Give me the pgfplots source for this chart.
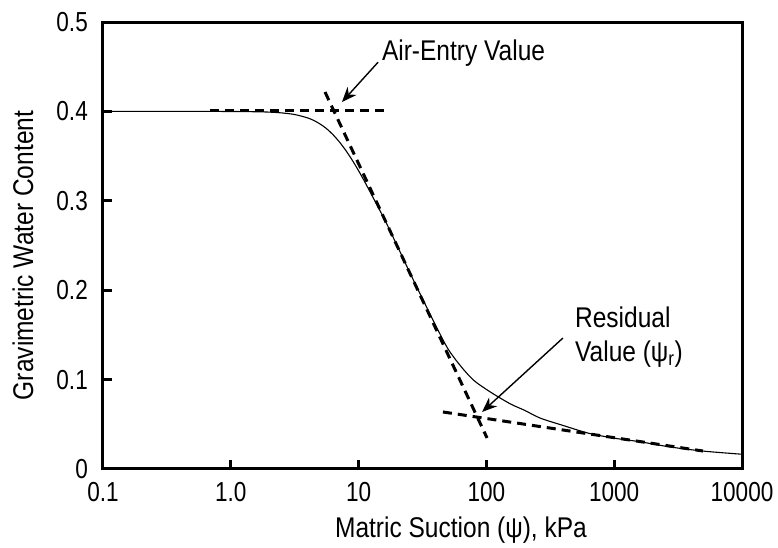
\documentclass[border=0pt]{standalone}
\usepackage{fontspec}
\setmainfont{Liberation Sans}[FakeStretch=0.86]
\newfontfamily\tickfont{Liberation Sans}[FakeStretch=0.82]
\usepackage{pgfplots}
\pgfplotsset{compat=1.18}
\usetikzlibrary{arrows.meta}
\begin{document}
\fontsize{28.5bp}{34bp}\selectfont
\begin{tikzpicture}
\path[use as bounding box] (0,0) rectangle (778bp,548bp);
\begin{axis}[
  at={(103bp,79bp)}, anchor=south west,
  width=639bp, height=447bp, scale only axis,
  xmode=log, xmin=0.1, xmax=10000, ymin=0, ymax=0.5,
  xtick={0.1,1,10,100,1000,10000},
  xticklabels={0.1,1.0,10,100,1000,10000},
  ytick={0,0.1,0.2,0.3,0.4,0.5},
  yticklabels={0,0.1,0.2,0.3,0.4,0.5},
  xminorticks=false, yminorticks=false,
  axis line style={line width=3bp, black},
  major tick length=9bp,
  every tick/.style={line width=3bp, black},
  tick align=inside, xtick pos=bottom, ytick pos=left,
  xticklabel style={anchor=base, inner sep=0pt, yshift=-33bp, font=\tickfont\fontsize{27.5bp}{33bp}\selectfont},
  yticklabel style={anchor=east, inner sep=0pt, xshift=-15bp, font=\tickfont\fontsize{27.5bp}{33bp}\selectfont},
  clip=false,
]
% soil-water characteristic curve
\addplot[black, line width=1.1bp, smooth] coordinates {
(0.1,0.400) (0.5,0.400) (1.0,0.3999) (1.585,0.3996) (1.995,0.3992) (2.512,0.3983)
(3.162,0.3965) (3.981,0.3928) (4.467,0.3898) (5.012,0.3858) (5.623,0.3806)
(6.310,0.3739) (7.079,0.3658) (7.943,0.3563) (8.913,0.3455) (10,0.3336)
(11.22,0.3207) (12.59,0.3072) (15.85,0.2800) (20,0.2500) (25,0.2205)
(31.6,0.1905) (39.8,0.1615) (50,0.1345) (63,0.115) (79,0.0996) (100,0.089)
(126,0.080) (158,0.072) (200,0.0655) (263,0.057) (400,0.0486) (631,0.040)
(1000,0.0345) (1585,0.0305) (2754,0.0246) (5000,0.020) (10000,0.0165)
};
% tangent lines
\addplot[black, line width=3bp, dash pattern=on 9bp off 6bp] coordinates {(0.687,0.4005) (17,0.4005)};
\addplot[black, line width=3bp, dash pattern=on 9bp off 6bp] coordinates {(5.46,0.4217) (101.2,0.0347)};
\addplot[black, line width=3bp, dash pattern=on 9bp off 6bp] coordinates {(45.7,0.0638) (4955,0.0201)};
% annotations
\draw[-{Stealth[length=15bp,width=12bp]}, line width=1.4bp] (axis cs:14.2,0.455) -- (axis cs:7.41,0.4105);
\draw[-{Stealth[length=15bp,width=12bp]}, line width=1.4bp] (axis cs:397,0.1465) -- (axis cs:92.5,0.0638);
\node[anchor=base west, inner sep=0pt] at (axis cs:15.2,0.4564) {Air-Entry Value};
\node[anchor=base west, inner sep=0pt] at (axis cs:493,0.1588) {Residual};
\node[anchor=base west, inner sep=0pt] at (axis cs:493,0.1197) {Value (ψ\textsubscript{r})};
\end{axis}
\node[anchor=base, inner sep=0pt] at (461bp,11bp) {Matric Suction (ψ), kPa};
\node[anchor=base, inner sep=0pt, rotate=90] at (33bp,292.5bp) {Gravimetric Water Content};
\end{tikzpicture}
\end{document}
